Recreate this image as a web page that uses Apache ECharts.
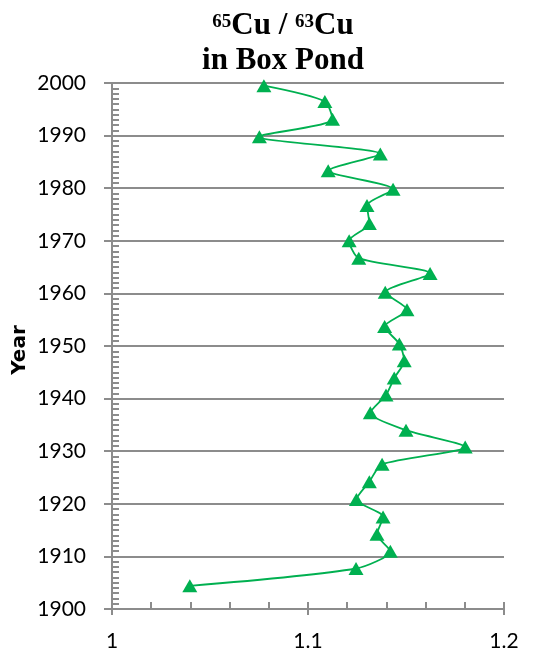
<!DOCTYPE html>
<html>
<head>
<meta charset="utf-8">
<script src="https://cdn.jsdelivr.net/npm/echarts@6/dist/echarts.min.js"></script>
<style>html,body{margin:0;padding:0;background:#fff}#c{width:535px;height:655px}</style>
</head>
<body>
<div id="c"></div>
<script>
const years = [1999.5, 1996.5, 1993.1, 1989.8, 1986.5, 1983.3, 1979.8, 1976.7, 1973.3, 1970.0,
  1966.7, 1963.8, 1960.2, 1956.9, 1953.7, 1950.4, 1947.2, 1943.9, 1940.7, 1937.3,
  1934.0, 1930.8, 1927.5, 1924.2, 1920.8, 1917.5, 1914.2, 1911.0, 1907.7, 1904.4];
const ratios = [1.0775, 1.1086, 1.1125, 1.0752, 1.1369, 1.1103, 1.1434, 1.1301, 1.1313, 1.1210,
  1.1259, 1.1623, 1.1394, 1.1505, 1.1391, 1.1466, 1.1491, 1.1440, 1.1398, 1.1318,
  1.1500, 1.1802, 1.1378, 1.1313, 1.1247, 1.1383, 1.1352, 1.1420, 1.1245, 1.0397];
const xTickLabels = ['1', '1.1', '1.2'];
const yAxisTitle = 'Year';

const GRID_C = '#8c8c8c';
const GREEN = '#00b050';
const chart = echarts.init(document.getElementById('c'), null, {renderer: 'canvas'});
const pts = years.map((y, i) => [ratios[i], y]);

chart.setOption({
  animation: false,
  backgroundColor: '#fff',
  grid: {left: 112, right: 31, top: 83, bottom: 46, containLabel: false, outerBoundsMode: 'none'},
  graphic: [
    {type: 'text', x: 283, y: 8, z: 10,
      style: {
        text: '{sup|65}{b|Cu / }{sup|63}{b|Cu}\n{b|in Box Pond}',
        align: 'center',
        verticalAlign: 'top',
        rich: {
          b: {fontFamily: 'Liberation Serif', fontWeight: 'bold', fontSize: 31, lineHeight: 35, fill: '#000'},
          sup: {fontFamily: 'Liberation Serif', fontWeight: 'bold', fontSize: 19, lineHeight: 35, verticalAlign: 'top', padding: [5, 0, 0, 0], fill: '#000'}
        }
      }
    },
    {type: 'text', x: 20, y: 350, rotation: Math.PI / 2, z: 10,
      style: {
        text: yAxisTitle, align: 'center', verticalAlign: 'middle',
        fontFamily: 'DejaVu Sans', fontWeight: 'bold', fontSize: 20, fill: '#000'
      }
    }
  ],
  xAxis: [
    {type: 'value', min: 1, max: 1.2, interval: 0.1, position: 'bottom',
      axisLine: {show: true, onZero: false, lineStyle: {color: GRID_C, width: 2}},
      axisTick: {show: true, length: 6, lineStyle: {color: GRID_C, width: 2}},
      splitLine: {show: false},
      axisLabel: {margin: 22, fontFamily: 'Lato', fontSize: 21, color: '#000',
        formatter: v => { const i = Math.round((v - 1) / 0.1); return xTickLabels[i] !== undefined ? xTickLabels[i] : ''; }}
    },
    {type: 'value', min: 1, max: 1.2, interval: 0.02, position: 'bottom',
      axisLine: {show: false, onZero: false},
      axisTick: {show: true, inside: true, length: 7, lineStyle: {color: GRID_C, width: 2}},
      splitLine: {show: false},
      axisLabel: {show: false}
    }
  ],
  yAxis: [
    {type: 'value', min: 1900, max: 2000, interval: 10, position: 'left',
      axisLine: {show: true, onZero: false, lineStyle: {color: GRID_C, width: 2}},
      axisTick: {show: true, length: 8, lineStyle: {color: GRID_C, width: 2}},
      splitLine: {show: true, lineStyle: {color: GRID_C, width: 2}},
      axisLabel: {margin: 26, fontFamily: 'Lato', fontSize: 21, color: '#000', formatter: v => String(v)}
    },
    {type: 'value', min: 1900, max: 2000, interval: 1, position: 'left', offset: 0,
      axisLine: {show: false, onZero: false},
      axisTick: {show: true, inside: true, length: 7, lineStyle: {color: GRID_C, width: 2}},
      splitLine: {show: false},
      axisLabel: {show: false}
    }
  ],
  series: [{
    type: 'line', xAxisIndex: 0, yAxisIndex: 0,
    data: pts,
    smooth: 0.25,
    symbol: 'triangle', symbolSize: [15, 13],
    itemStyle: {color: GREEN},
    lineStyle: {color: GREEN, width: 1.8},
    z: 5
  }]
});
</script>
</body>
</html>
